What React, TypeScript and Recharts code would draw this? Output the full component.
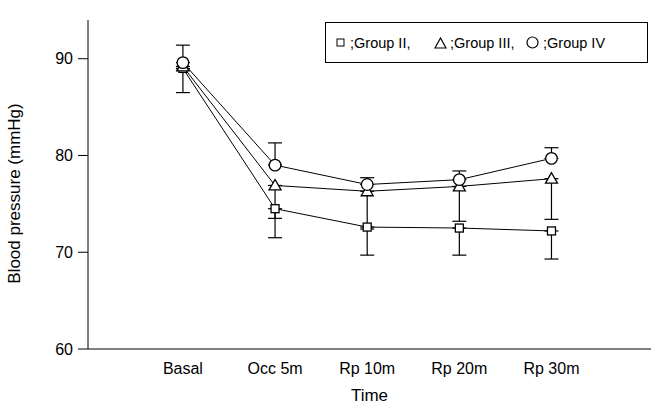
import { LineChart, Line, XAxis, YAxis, ErrorBar, Legend } from 'recharts';

// time points
const categories = ['Basal', 'Occ 5m', 'Rp 10m', 'Rp 20m', 'Rp 30m'];

// mean blood pressure (mmHg)
const groupII = [89.0, 74.5, 72.6, 72.5, 72.2];
const groupIII = [89.2, 76.9, 76.3, 76.8, 77.6];
const groupIV = [89.6, 79.0, 77.0, 77.5, 79.7];

// error bars as [down, up]
const errII = [[2.5, 0], [3.0, 0], [2.9, 0], [2.8, 0], [2.9, 0]];
const errIII = [[0.4, 0], [3.4, 0], [3.9, 0], [3.6, 0], [4.2, 0]];
const errIV = [[0, 1.8], [0, 2.3], [0, 0.7], [0, 0.9], [0, 1.1]];

const yTicks = [60, 70, 80, 90];

const data = categories.map((c, i) => ({
  x: i,
  name: c,
  g2: groupII[i],
  g3: groupIII[i],
  g4: groupIV[i],
  e2: errII[i],
  e3: errIII[i],
  e4: errIV[i],
}));

const FONT = '"Liberation Sans", Arial, Helvetica, sans-serif';

const SquareDot = (props: any) => {
  const { cx, cy, key } = props;
  return <rect key={key} x={cx - 4} y={cy - 4} width={8} height={8} fill="#fff" stroke="#000" strokeWidth={1.3} />;
};

const TriangleDot = (props: any) => {
  const { cx, cy, key } = props;
  const p = `${cx},${cy - 6} ${cx - 6},${cy + 4.5} ${cx + 6},${cy + 4.5}`;
  return <polygon key={key} points={p} fill="#fff" stroke="#000" strokeWidth={1.3} />;
};

const CircleDot = (props: any) => {
  const { cx, cy, key } = props;
  return <circle key={key} cx={cx} cy={cy} r={5.8} fill="#fff" stroke="#000" strokeWidth={1.3} />;
};

function renderLegend() {
  const abs = (left: number) => ({ position: 'absolute', left, top: 0, bottom: 0, display: 'flex', alignItems: 'center' }) as const;
  return (
    <div
      style={{
        position: 'relative',
        border: '1px solid #000',
        height: 41,
        width: 323,
        fontFamily: FONT,
        fontSize: 14.5,
        color: '#000',
        boxSizing: 'border-box',
        background: '#fff',
      }}
    >
      <span style={abs(10)}>
        <svg width={9} height={9}><rect x={1} y={1} width={7} height={7} fill="#fff" stroke="#000" strokeWidth={1} /></svg>
      </span>
      <span style={abs(24)}>;Group II,</span>
      <span style={abs(108)}>
        <svg width={13} height={12}><polygon points="6.5,1 1,11 12,11" fill="#fff" stroke="#000" strokeWidth={1.2} /></svg>
      </span>
      <span style={abs(124)}>;Group III,</span>
      <span style={abs(200)}>
        <svg width={13} height={13}><circle cx={6.5} cy={6.5} r={5.5} fill="#fff" stroke="#000" strokeWidth={1.2} /></svg>
      </span>
      <span style={abs(217)}>;Group IV</span>
    </div>
  );
}

export default function App() {
  return (
    <div style={{ position: 'absolute', left: 0, top: 0, background: '#fff' }}>
      <LineChart width={653} height={409} data={data} margin={{ top: 20, right: 2, left: 0, bottom: 0 }}>
        <XAxis
          dataKey="x"
          type="number"
          domain={[-1.03, 5.08]}
          ticks={[0, 1, 2, 3, 4]}
          tickFormatter={(v: number) => categories[v] ?? ''}
          tickLine={false}
          tickMargin={8}
          height={60}
          stroke="#000"
          tick={{ fill: '#000', fontSize: 16, fontFamily: FONT }}
          label={{ value: 'Time', position: 'insideBottom', offset: 8, fill: '#000', fontSize: 17, fontFamily: FONT }}
        />
        <YAxis
          type="number"
          domain={[60, 94]}
          ticks={yTicks}
          width={88}
          tickSize={10}
          tickMargin={5}
          stroke="#000"
          tick={{ fill: '#000', fontSize: 16, fontFamily: FONT }}
          label={{
            value: 'Blood pressure (mmHg)',
            angle: -90,
            position: 'insideLeft',
            offset: 14,
            dy: 9,
            fill: '#000',
            fontSize: 17,
            fontFamily: FONT,
            style: { textAnchor: 'middle' },
          }}
        />
        <Legend
          content={renderLegend}
          layout="vertical"
          align="center"
          verticalAlign="middle"
          wrapperStyle={{ position: 'absolute', left: 325, top: 22, width: 323, height: 41 }}
        />
        <Line dataKey="g2" name="Group II" stroke="#000" strokeWidth={1} dot={SquareDot} activeDot={false} isAnimationActive={false}>
          <ErrorBar dataKey="e2" direction="y" width={7} stroke="#000" strokeWidth={1.2} />
        </Line>
        <Line dataKey="g3" name="Group III" stroke="#000" strokeWidth={1} dot={TriangleDot} activeDot={false} isAnimationActive={false}>
          <ErrorBar dataKey="e3" direction="y" width={7} stroke="#000" strokeWidth={1.2} />
        </Line>
        <Line dataKey="g4" name="Group IV" stroke="#000" strokeWidth={1} dot={CircleDot} activeDot={false} isAnimationActive={false}>
          <ErrorBar dataKey="e4" direction="y" width={7} stroke="#000" strokeWidth={1.2} />
        </Line>
      </LineChart>
    </div>
  );
}
